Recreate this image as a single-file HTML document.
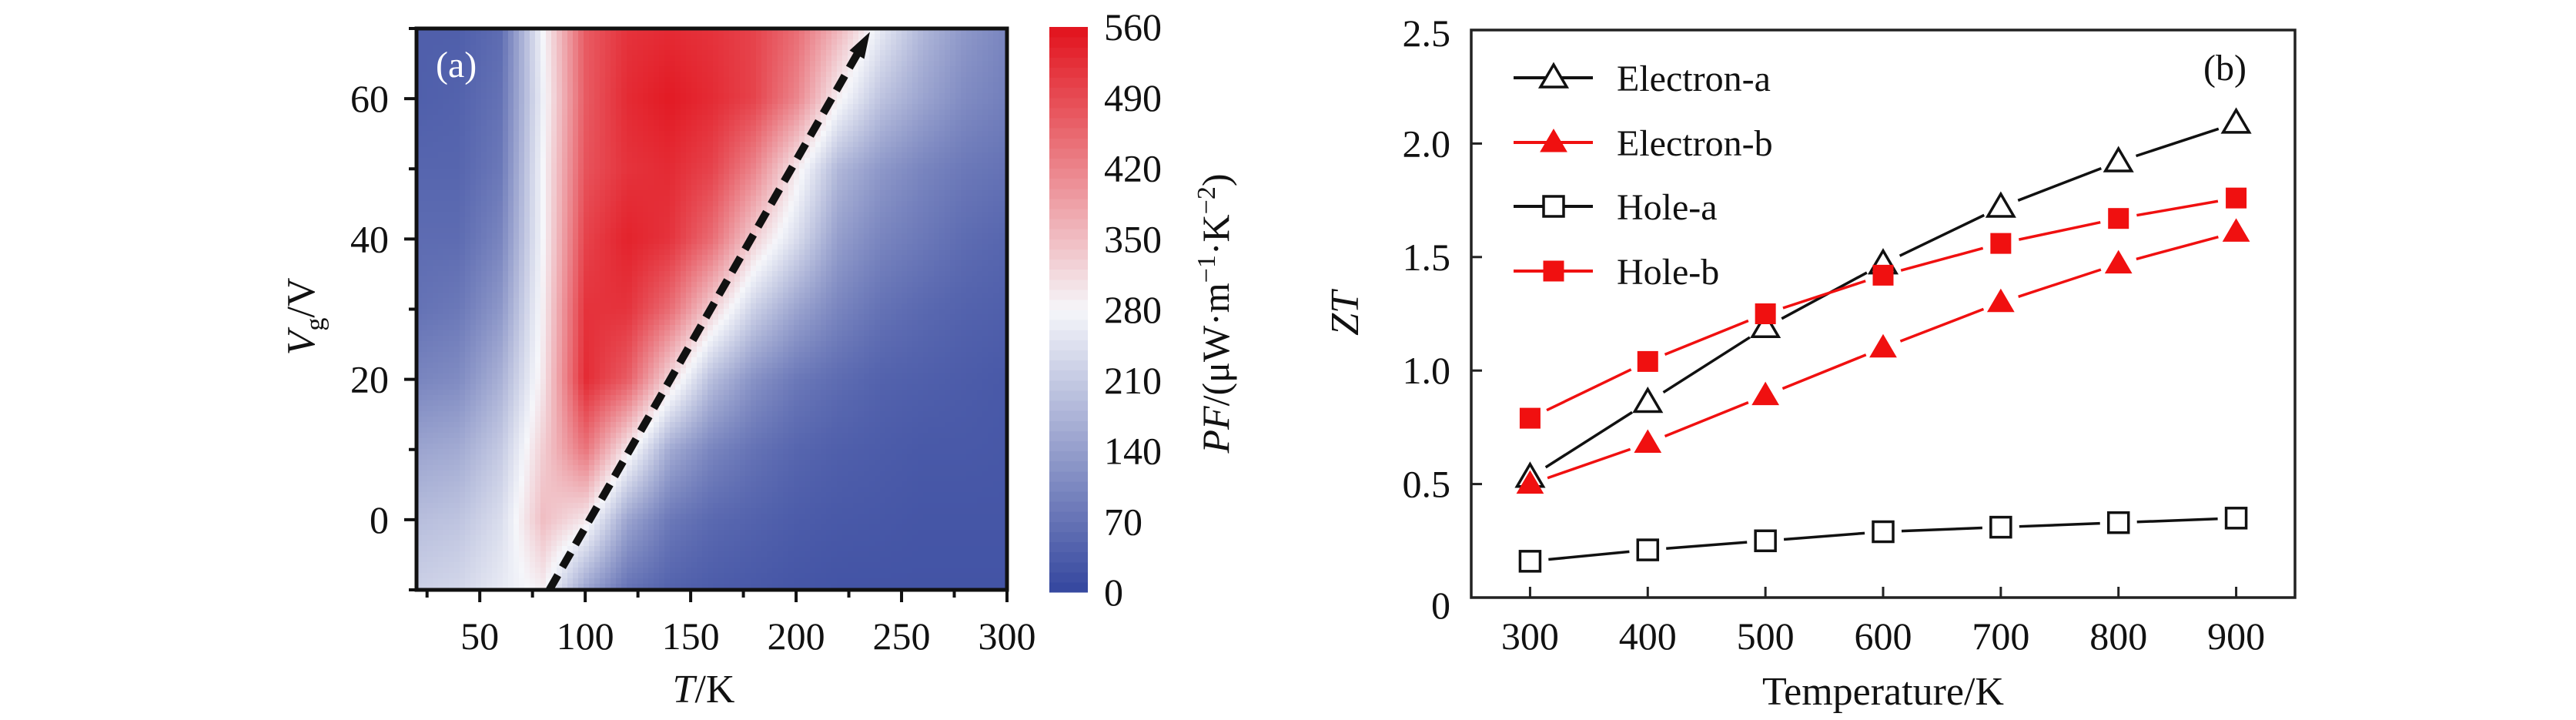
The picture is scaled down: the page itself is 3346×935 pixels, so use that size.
<!DOCTYPE html>
<html><head><meta charset="utf-8"><style>
html,body{margin:0;padding:0;background:#fff;}
svg{display:block;font-family:"Liberation Serif",serif;}
</style></head><body>
<svg id="fig" width="3346" height="935" viewBox="0 0 3346 935" xmlns="http://www.w3.org/2000/svg">
<g id="left"></g>
<g id="right"></g>
</svg>
<script>
// ---- Panel (a) data ----
const hmT = [20,40,60,80,100,120,140,160,180,200,220,240,260,280,300];
const hmV = [70,60,50,40,30,20,10,0,-10];
const hmVals = [
 [40,40,60,280,470,520,530,520,500,450,360,260,180,130,100],
 [40,45,70,270,470,530,550,530,500,420,290,200,150,110,90],
 [50,50,80,280,480,520,530,500,420,300,180,130,100,80,70],
 [60,60,100,280,500,540,520,450,330,240,140,100,80,60,50],
 [70,80,130,290,520,520,450,330,220,150,100,70,55,45,40],
 [100,110,170,300,530,470,320,190,120,80,60,45,40,35,30],
 [150,160,210,330,440,300,160,100,70,50,40,35,30,30,28],
 [190,200,240,350,300,150,80,55,45,35,30,28,25,25,25],
 [220,230,260,290,150,70,45,35,30,25,22,22,22,22,22]
];
const xTicksA = [50,100,150,200,250,300];
const yTicksA = [0,20,40,60];
const cbTicks = [0,70,140,210,280,350,420,490,560];
const arrowFrom = [83,-10];
const arrowTo = [235,69.5];
// ---- Panel (b) data ----
const temps = [300,400,500,600,700,800,900];
const electronA = [0.53,0.86,1.19,1.47,1.72,1.92,2.09];
const electronB = [0.50,0.68,0.89,1.10,1.30,1.47,1.61];
const holeA = [0.16,0.21,0.25,0.29,0.31,0.33,0.35];
const holeB = [0.79,1.04,1.25,1.42,1.56,1.67,1.76];
const xTicksB = [300,400,500,600,700,800,900];
const yTicksB = [0,0.5,1.0,1.5,2.0,2.5];
const yTickLabelsB = ["0","0.5","1.0","1.5","2.0","2.5"];

const NS="http://www.w3.org/2000/svg";
function mk(tag,attrs,parent){const e=document.createElementNS(NS,tag);for(const k in attrs)e.setAttribute(k,attrs[k]);parent.appendChild(e);return e;}

function cmap(v){
  const t=Math.max(0,Math.min(1,v/560));
  const b=[52,70,158],w=[245,246,250],r=[226,18,28];
  let c;
  if(t<0.5){const s=t/0.5;c=b.map((x,i)=>x+(w[i]-x)*s);}
  else{const s=(t-0.5)/0.5;c=w.map((x,i)=>x+(r[i]-x)*s);}
  return `rgb(${c.map(Math.round).join(",")})`;
}
// ---- Panel (a) ----
const L=document.getElementById('left');
const ax={x0:541,x1:1308,y0:37,y1:766,tmin:20,tmax:300,vmin:-10,vmax:70};
const sxA=t=>ax.x0+(t-ax.tmin)/(ax.tmax-ax.tmin)*(ax.x1-ax.x0);
const syA=v=>ax.y1-(v-ax.vmin)/(ax.vmax-ax.vmin)*(ax.y1-ax.y0);
function sample(t,v){
  let ci=(t-hmT[0])/(hmT[1]-hmT[0]); ci=Math.max(0,Math.min(hmT.length-1.0001,ci));
  let ri=(hmV[0]-v)/(hmV[0]-hmV[1]); ri=Math.max(0,Math.min(hmV.length-1.0001,ri));
  const c=Math.floor(ci),r=Math.floor(ri),fc=ci-c,fr=ri-r;
  const a=hmVals[r][c],b=hmVals[r][c+1],d=hmVals[r+1][c],e=hmVals[r+1][c+1];
  return (a*(1-fc)+b*fc)*(1-fr)+(d*(1-fc)+e*fc)*fr;
}
const hm=mk('g',{'shape-rendering':'crispEdges'},L);


const step=7;
for(let y=ax.y0;y<ax.y1;y+=step){
  for(let x=ax.x0;x<ax.x1;x+=step){
    const t=ax.tmin+(x+step/2-ax.x0)/(ax.x1-ax.x0)*(ax.tmax-ax.tmin);
    const v=ax.vmax-(y+step/2-ax.y0)/(ax.y1-ax.y0)*(ax.vmax-ax.vmin);
    const rc=mk('rect',{x:x,y:y,width:Math.min(step+0.5,ax.x1-x),height:Math.min(step+0.5,ax.y1-y),fill:cmap(sample(t,v))},hm);
    
    
  }
}
const ax1=sxA(arrowFrom[0]),ay1=syA(arrowFrom[1]),ax2=sxA(arrowTo[0]),ay2=syA(arrowTo[1]);
const ang=Math.atan2(ay2-ay1,ax2-ax1);
const al=mk('line',{x1:ax1,y1:ay1,x2:ax2-28*Math.cos(ang),y2:ay2-28*Math.sin(ang),stroke:'#111','stroke-width':10,'stroke-dasharray':'22 12'},L);


const hx=ax2,hy=ay2,px=-Math.sin(ang),py=Math.cos(ang);
const ah=mk('polygon',{points:`${hx},${hy} ${hx-34*Math.cos(ang)+11*px},${hy-34*Math.sin(ang)+11*py} ${hx-34*Math.cos(ang)-11*px},${hy-34*Math.sin(ang)-11*py}`,fill:'#111'},L);


const fr=mk('rect',{x:ax.x0,y:ax.y0,width:ax.x1-ax.x0,height:ax.y1-ax.y0,fill:'none',stroke:'#111','stroke-width':5},L);


for(let t=25;t<=300;t+=25){
  const X=sxA(t);const major=t%50===0;
  const tk=mk('line',{x1:X,y1:ax.y1,x2:X,y2:ax.y1+(major?16:10),stroke:'#111','stroke-width':4},L);
  
  
}
xTicksA.forEach(t=>{
  const tx=mk('text',{x:sxA(t),y:843,'font-size':50,'text-anchor':'middle',fill:'#111'},L);tx.textContent=t;
  
  
});
for(let v=-10;v<=70;v+=10){
  const Y=syA(v);const major=v%20===0;
  const tk=mk('line',{x1:ax.x0,y1:Y,x2:ax.x0-(major?16:10),y2:Y,stroke:'#111','stroke-width':4},L);
  
  
}
yTicksA.forEach(v=>{
  const tx=mk('text',{x:505,y:syA(v)+17,'font-size':50,'text-anchor':'end',fill:'#111'},L);tx.textContent=v;
  
  
});
let t1=mk('text',{x:566,y:100,'font-size':48,fill:'#fff'},L);t1.textContent='(a)';


let xt=mk('text',{x:914,y:912,'font-size':52,'text-anchor':'middle',fill:'#111'},L);
xt.innerHTML='<tspan font-style="italic">T</tspan>/K';


let yt=mk('text',{x:0,y:0,'font-size':52,'text-anchor':'middle',fill:'#111',transform:'translate(408,411) rotate(-90)'},L);
yt.innerHTML='<tspan font-style="italic">V</tspan><tspan font-size="34" dy="12">g</tspan><tspan dy="-12">/V</tspan>';


const cb={x:1363,w:50,y0:35,y1:769};
const cbg=mk('g',{'shape-rendering':'crispEdges'},L);


const nlev=56;
for(let i=0;i<nlev;i++){
  const v=(i+0.5)*560/nlev;
  const yb=cb.y1-(i+1)*(cb.y1-cb.y0)/nlev;
  const r=mk('rect',{x:cb.x,y:yb,width:cb.w,height:(cb.y1-cb.y0)/nlev+0.6,fill:cmap(v)},cbg);
  
  
}
cbTicks.forEach(v=>{
  const Y=cb.y1-v/560*(cb.y1-cb.y0);
  const tx=mk('text',{x:1434,y:Y+17,'font-size':50,fill:'#111'},L);tx.textContent=v;
  
  
});
let ct=mk('text',{x:0,y:0,'font-size':50,'text-anchor':'middle',fill:'#111',transform:'translate(1596,407) rotate(-90)'},L);
ct.innerHTML='<tspan font-style="italic">PF</tspan>/(μW·m<tspan font-size="34" dy="-18">−1</tspan><tspan dy="18">·K</tspan><tspan font-size="34" dy="-18">−2</tspan><tspan dy="18">)</tspan>';



// ---- Panel (b) ----
const R=document.getElementById('right');
const bx={x0:1911,x1:2981,y0:39,y1:776,tmin:250,tmax:950,zmin:0,zmax:2.5};
const sxB=t=>bx.x0+(t-bx.tmin)/(bx.tmax-bx.tmin)*(bx.x1-bx.x0);
const syB=z=>bx.y1-(z-bx.zmin)/(bx.zmax-bx.zmin)*(bx.y1-bx.y0);
const frb=mk('rect',{x:bx.x0,y:bx.y0,width:bx.x1-bx.x0,height:bx.y1-bx.y0,fill:'none',stroke:'#222','stroke-width':3.5},R);


xTicksB.forEach(t=>{
  const tk=mk('line',{x1:sxB(t),y1:bx.y1,x2:sxB(t),y2:bx.y1-14,stroke:'#222','stroke-width':3},R);
  
  
  const tx=mk('text',{x:sxB(t),y:843,'font-size':50,'text-anchor':'middle',fill:'#111'},R);tx.textContent=t;
  
  
});
yTicksB.forEach((z,i)=>{
  const tk=mk('line',{x1:bx.x0,y1:syB(z),x2:bx.x0+14,y2:syB(z),stroke:'#222','stroke-width':3},R);
  
  
  const tx=mk('text',{x:1884,y:syB(z)+17+(z===0?10:0)+(z===2.5?4:0),'font-size':50,'text-anchor':'end',fill:'#111'},R);tx.textContent=yTickLabelsB[i];
  
  
});
let xtb=mk('text',{x:2446,y:915,'font-size':52,'text-anchor':'middle',fill:'#111'},R);xtb.textContent='Temperature/K';


let ytb=mk('text',{x:0,y:0,'font-size':52,'text-anchor':'middle','font-style':'italic',fill:'#111',transform:'translate(1764,407) rotate(-90)'},R);ytb.textContent='ZT';


let pb=mk('text',{x:2890,y:104,'font-size':48,'text-anchor':'middle',fill:'#111'},R);pb.textContent='(b)';



function marker(g,shape,filled,color,cx,cy){
  let e;
  const fill=filled?color:'#fff';
  if(shape==='tri'){
    e=mk('polygon',{points:`${cx},${cy-17} ${cx+17},${cy+12} ${cx-17},${cy+12}`,fill:fill,stroke:color,'stroke-width':filled?1:3.5},g);
  }else{
    e=mk('rect',{x:cx-13,y:cy-13,width:26,height:26,fill:fill,stroke:color,'stroke-width':filled?1:3.5},g);
  }
  
  
}
const series=[
 {name:'Electron-a',vals:electronA,color:'#111',shape:'tri',filled:false},
 {name:'Electron-b',vals:electronB,color:'#f01010',shape:'tri',filled:true},
 {name:'Hole-a',vals:holeA,color:'#111',shape:'sq',filled:false},
 {name:'Hole-b',vals:holeB,color:'#f01010',shape:'sq',filled:true}
];
series.forEach((s,si)=>{
  const g=mk('g',{},R);
  
  
  for(let i=0;i<temps.length-1;i++){
    const x1=sxB(temps[i]),y1=syB(s.vals[i]),x2=sxB(temps[i+1]),y2=syB(s.vals[i+1]);
    const d=Math.hypot(x2-x1,y2-y1),ux=(x2-x1)/d,uy=(y2-y1)/d,gap=24;
    const ln=mk('line',{x1:x1+ux*gap,y1:y1+uy*gap,x2:x2-ux*gap,y2:y2-uy*gap,stroke:s.color,'stroke-width':3.5},g);
    
    
  }
  temps.forEach((t,i)=>marker(g,s.shape,s.filled,s.color,sxB(t),syB(s.vals[i])));
  const ly=[101,185,268,352][si];
  const lg=mk('g',{},R);
  
  
  const ll=mk('line',{x1:1966,y1:ly,x2:2069,y2:ly,stroke:s.color,'stroke-width':4},lg);
  
  
  marker(lg,s.shape,s.filled,s.color,2018,ly);
  const lt=mk('text',{x:2100,y:ly+17,'font-size':48,fill:'#111'},lg);lt.textContent=s.name;
  
  
});
</script>
</body></html>
